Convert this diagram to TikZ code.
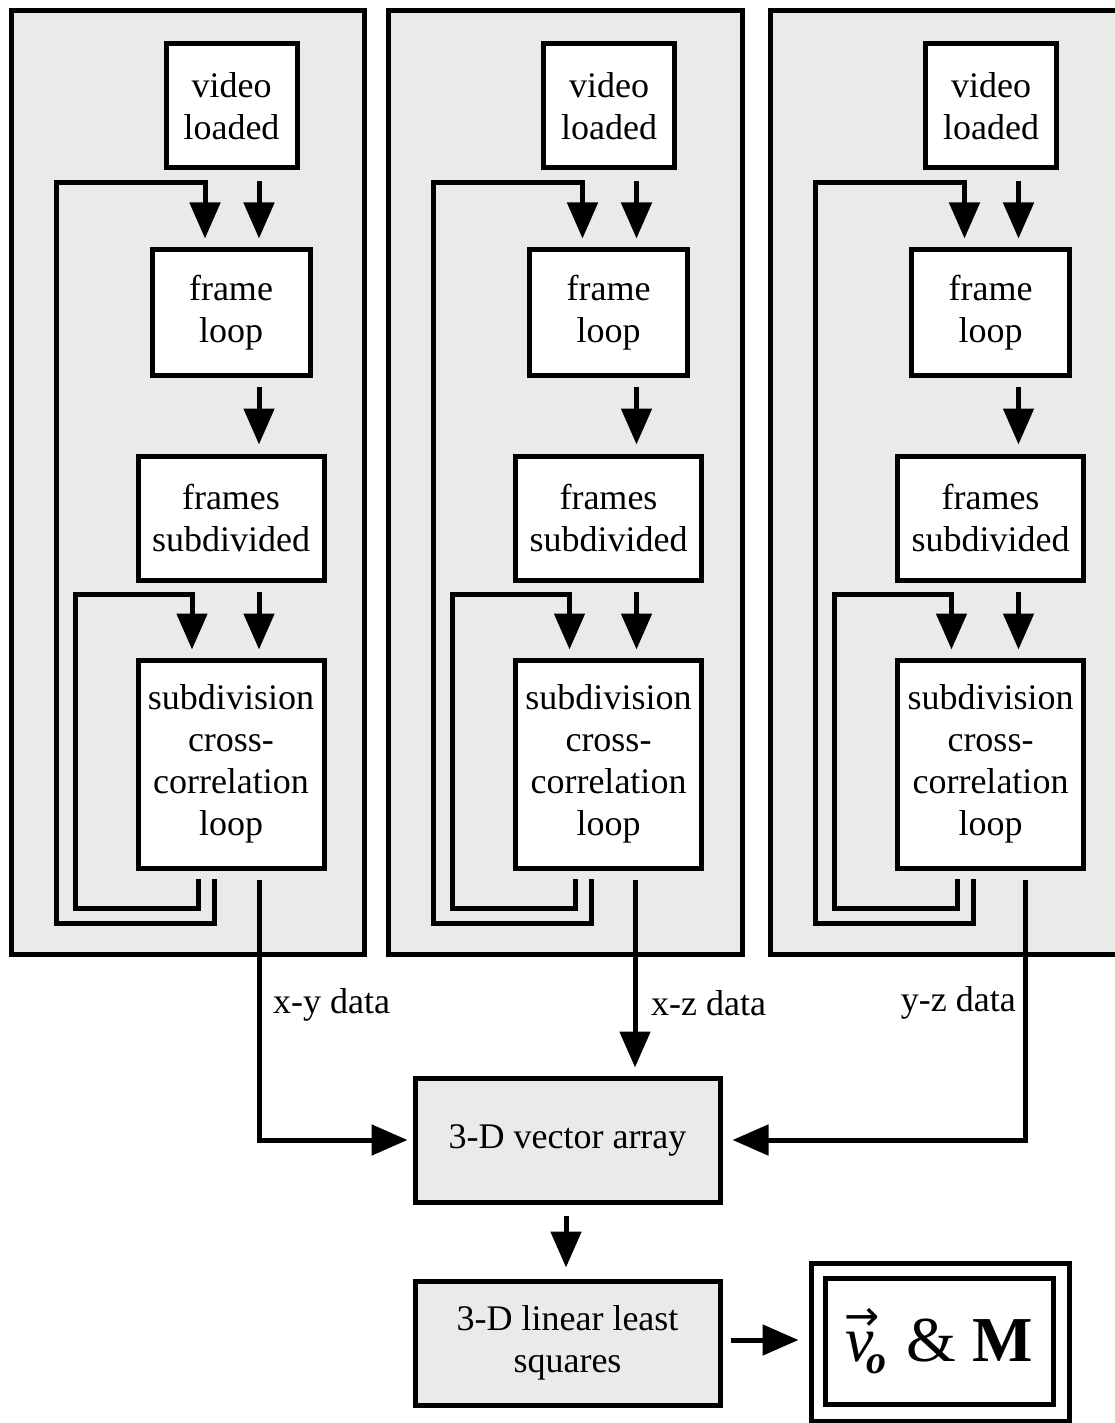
\documentclass[tikz,border=0pt]{standalone}
\usepackage{fontspec}
\setmainfont{Liberation Serif}
\newfontfamily\arrowsym{DejaVu Sans}
\usetikzlibrary{arrows.meta,calc}
\definecolor{panelgray}{RGB}{235,234,232}
\begin{document}
\begin{tikzpicture}[x=1pt,y=-1pt,
  box/.style={draw,line width=5pt,fill=white,inner sep=0pt,align=center,font=\fontsize{36}{42}\selectfont},
  gbox/.style={box,fill=panelgray},
  panel/.style={draw,line width=5pt,fill=panelgray,inner sep=0pt},
  conn/.style={line width=5pt},
  arr/.style={conn,-{Triangle[width=30pt,length=36pt]}},
  lbl/.style={font=\fontsize{36}{42}\selectfont,inner sep=0pt}]
\useasboundingbox (0,0) rectangle (1115,1423);
\foreach \i/\d/\od in {1/0/0,2/377.5/376,3/759.5/766}{
  \node[panel,minimum width=353.5pt,minimum height=943.5pt] (p\i) at (187.75+\d,482.75) {};
  \node[box,minimum width=131pt,minimum height=124pt] (v\i) at (231.5+\d,106) {video\\loaded};
  \node[box,minimum width=158pt,minimum height=125pt] (f\i) at (231+\d,312.5) {frame\\loop};
  \node[box,minimum width=186pt,minimum height=124pt] (s\i) at (231+\d,518) {frames\\subdivided};
  \node[box,minimum width=186pt,minimum height=208pt] (c\i) at (231+\d,764) {subdivision\\cross-\\correlation\\loop};
  % straight arrows
  \coordinate (a\i) at (259+\d,181);
  \coordinate (b\i) at (259+\d,387);
  \coordinate (e\i) at (259+\d,592);
  \draw[arr,shorten >=9pt] (a\i) -- (a\i |- f\i.north);
  \draw[arr,shorten >=9pt] (b\i) -- (b\i |- s\i.north);
  \draw[arr,shorten >=8pt] (e\i) -- (e\i |- c\i.north);
  % outer loop
  \coordinate (o1\i) at (214+\d,879);
  \coordinate (o2\i) at (214+\d,923);
  \coordinate (o3\i) at (56+\d,923);
  \coordinate (o4\i) at (56+\d,183);
  \coordinate (o5\i) at (205+\d,183);
  \draw[arr,shorten >=9pt] (o1\i) -- (o2\i) -- (o3\i) -- (o4\i) -- (o5\i) -- (o5\i |- f\i.north);
  % inner loop
  \coordinate (i1\i) at (198+\d,879);
  \coordinate (i2\i) at (198+\d,908);
  \coordinate (i3\i) at (75+\d,908);
  \coordinate (i4\i) at (75+\d,594);
  \coordinate (i5\i) at (192+\d,594);
  \draw[arr,shorten >=8pt] (i1\i) -- (i2\i) -- (i3\i) -- (i4\i) -- (i5\i) -- (i5\i |- c\i.north);
  \coordinate (out\i) at (259+\od,880);
}
\node[gbox,minimum width=305pt,minimum height=124pt] (vec) at (567.5,1140) {3-D vector array};
\node[gbox,minimum width=305pt,minimum height=124pt] (lls) at (567.5,1343) {3-D linear least\\squares};
\node[draw,line width=5pt,minimum width=258pt,minimum height=158pt,inner sep=0pt] (resout) at (940,1342) {};
\node[box,minimum width=228pt,minimum height=126pt] (res) at (939,1341)
  {\fontsize{64}{70}\selectfont\makebox[0pt][l]{\raisebox{31pt}{\arrowsym\fontsize{42}{42}\selectfont\kern-1pt →}}\textit{v}\kern-7pt\raisebox{-12pt}{\fontsize{40}{40}\selectfont\textbf{\textit{o}}}\kern4pt{} \& \textbf{M}};
% data connectors
\draw[arr,shorten >=5pt] (out1) |- (vec.west);
\draw[arr,shorten >=8pt] (out2) -- (out2 |- vec.north);
\draw[arr,shorten >=10pt] (out3) |- (vec.east);
\node[lbl,anchor=west] (lxy) at (273,1005) {x-y data};
\node[lbl,anchor=west] (lxz) at (651,1003) {x-z data};
\node[lbl,anchor=east] (lyz) at (1016,1003) {y-z data};
\draw[arr,shorten <=11pt,shorten >=11pt] (vec.south -| 566,0) -- (lls.north -| 566,0);
\draw[arr,shorten <=8pt,shorten >=10pt] (lls.east |- 0,1340) -- (resout.west |- 0,1340);
\end{tikzpicture}
\end{document}
